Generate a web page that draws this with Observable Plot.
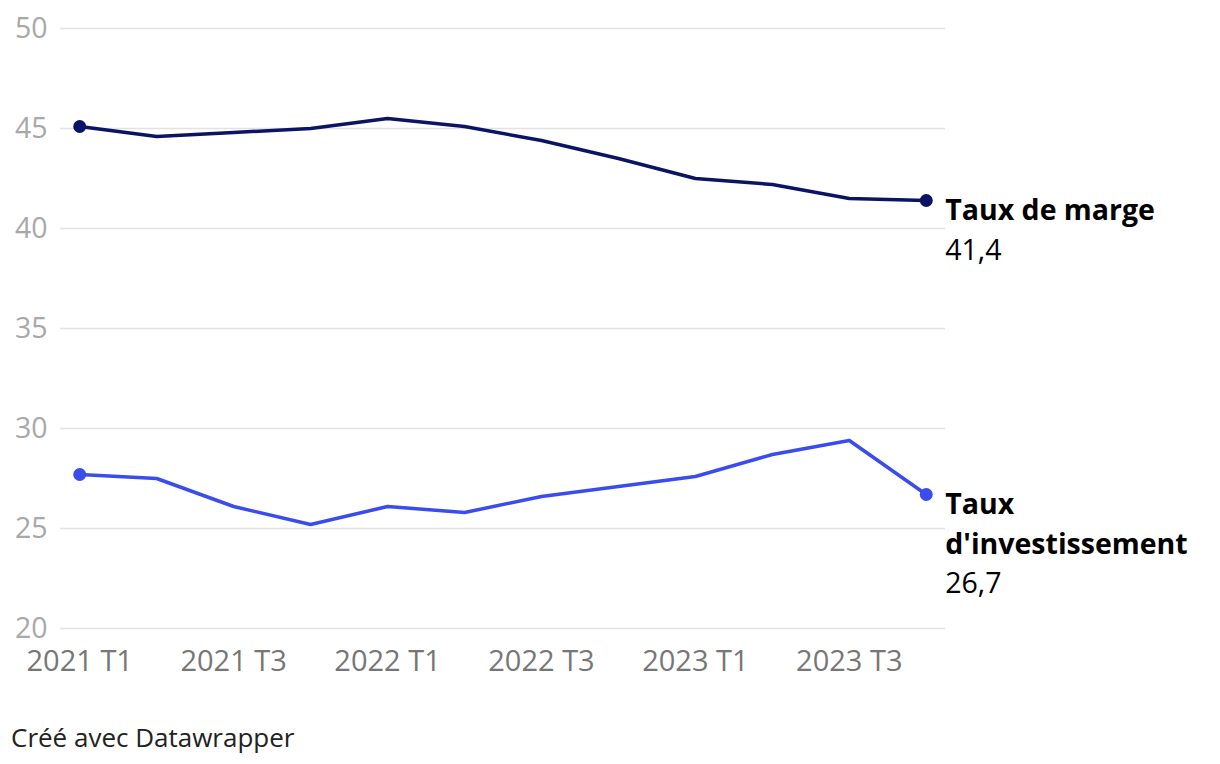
<!DOCTYPE html>
<html>
<head>
<meta charset="utf-8">
<script src="https://cdn.jsdelivr.net/npm/d3@7"></script>
<script src="https://cdn.jsdelivr.net/npm/@observablehq/plot@0.6"></script>
<style>
  html, body { margin: 0; padding: 0; background: #fff; }
  body { width: 1220px; height: 764px; overflow: hidden; font-family: "Open Sans", "Noto Sans", sans-serif; }
  #caption { margin-top: 42px; padding-left: 11px; font-size: 26px; line-height: 30px; color: #222; }
</style>
</head>
<body>
<div id="chart"></div>
<div id="caption">Créé avec Datawrapper</div>
<script>
const quarters = ["2021 T1","2021 T2","2021 T3","2021 T4","2022 T1","2022 T2","2022 T3","2022 T4","2023 T1","2023 T2","2023 T3","2023 T4"];
const seriesNames = ["Taux de marge", "Taux d'investissement"];
const seriesLabels = ["Taux de marge", "Taux\nd'investissement"];
const margeValues = [45.1, 44.6, 44.8, 45.0, 45.5, 45.1, 44.4, 43.5, 42.5, 42.2, 41.5, 41.4];
const investValues = [27.7, 27.5, 26.1, 25.2, 26.1, 25.8, 26.6, 27.1, 27.6, 28.7, 29.4, 26.7];
const seriesColors = ["#0b1464", "#3a4cec"];
const yTicks = [20, 25, 30, 35, 40, 45, 50];
const xTicks = quarters.filter((d, i) => i % 2 === 0);

const valuesBySeries = [margeValues, investValues];
const data = [];
seriesNames.forEach((s, si) => {
  valuesBySeries[si].forEach((v, i) => data.push({series: s, q: quarters[i], v}));
});
const ends = data.filter(d => d.q === quarters[0] || d.q === quarters[quarters.length - 1]);
const last = seriesNames.map((s, si) => ({
  series: s,
  q: quarters[quarters.length - 1],
  v: valuesBySeries[si][valuesBySeries[si].length - 1],
  label: seriesLabels[si],
  lines: seriesLabels[si].split("\n").length
}));

const fs = 28.5;
const lh = 1.39;
const fmt = v => v.toFixed(1).replace(".", ",");

const marks = [
  Plot.gridY(yTicks, {stroke: "#e2e2e2", strokeOpacity: 1, strokeWidth: 1.5}),
  Plot.axisY(yTicks, {tickSize: 0, tickPadding: 13, fontSize: 28.5, color: "#a8a8a8", label: null}),
  Plot.axisX(xTicks, {tickSize: 0, tickPadding: 22, fontSize: 29, color: "#767676", label: null}),
  Plot.line(data, {x: "q", y: "v", z: "series", stroke: "series", strokeWidth: 3.5, strokeLinejoin: "round"}),
  Plot.dot(ends, {x: "q", y: "v", fill: "series", r: 6.5}),
  Plot.text(last, {x: "q", y: "v", text: "label", textAnchor: "start", lineAnchor: "top", dx: 19,
    dy: 19.5 - 0.71 * lh * fs,
    fontSize: fs, fontWeight: "bold", fill: "#000", lineHeight: lh})
];
last.forEach(d => {
  marks.push(Plot.text([d], {x: "q", y: "v", text: e => fmt(e.v), textAnchor: "start", lineAnchor: "top",
    dx: 19, dy: 19.5 - 0.71 * fs + d.lines * fs * lh, fontSize: fs, fill: "#000"}));
});

const chart = Plot.plot({
  width: 1220,
  height: 680,
  marginTop: 28,
  marginBottom: 52,
  marginLeft: 60,
  marginRight: 275,
  style: {fontFamily: "'Open Sans', 'Noto Sans', sans-serif", background: "#fff", overflow: "visible"},
  x: {type: "point", domain: quarters, padding: 0.25, round: false},
  y: {domain: [20, 50]},
  color: {domain: seriesNames, range: seriesColors},
  marks
});
document.getElementById("chart").appendChild(chart);
</script>
</body>
</html>
